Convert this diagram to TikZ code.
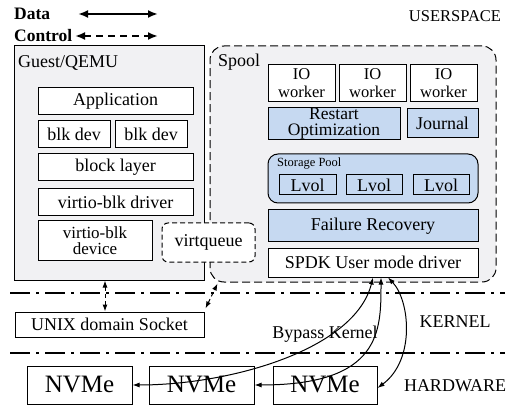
\documentclass[tikz,border=0pt]{standalone}
\usepackage{fontspec}
\setmainfont{Liberation Serif}
\usetikzlibrary{arrows.meta}
\definecolor{panelgray}{HTML}{F1F1F3}
\definecolor{layerblue}{HTML}{C6D9F1}
\tikzstyle{every node}=[inner sep=0pt, font=\rmfamily\fontsize{18}{18}\selectfont]
\tikzstyle{panel}=[draw, fill=panelgray, line width=1pt]
\tikzstyle{plainbox}=[draw, fill=white, line width=1pt]
\tikzstyle{bluebox}=[draw, fill=layerblue, line width=1pt]
\tikzstyle{dataline}=[line width=1pt, {Latex[length=7pt,width=5pt]}-{Latex[length=7pt,width=5pt]}]
\tikzstyle{ctrlline}=[dataline, dash pattern=on 4pt off 3pt]
\tikzstyle{keydata}=[line width=2pt, {Latex[length=10pt,width=8pt]}-{Latex[length=10pt,width=8pt]}]
\tikzstyle{keyctrl}=[keydata, dash pattern=on 7pt off 5pt]
\tikzstyle{layerline}=[line width=1.8pt, dash pattern=on 20pt off 6pt on 3pt off 6pt]
\tikzstyle{layertext}=[font=\rmfamily\fontsize{18}{18}\selectfont]

\begin{document}
\begin{tikzpicture}[x=1pt, y=-1pt]
\useasboundingbox (0,0) rectangle (514,406);
% Legend
    \node[anchor=west, font=\rmfamily\bfseries\fontsize{17.5}{17.5}\selectfont] (datakey) at (14,14) {Data};
    \node[anchor=west, font=\rmfamily\bfseries\fontsize{17.5}{17.5}\selectfont] (ctrlkey) at (14,36) {Control};
    \coordinate (datafrom) at (78,14);
    \coordinate (datato) at (158,14);
    \coordinate (ctrlfrom) at (75,36);
    \coordinate (ctrlto) at (158,36);
    \draw[keydata] (datafrom) -- (datato);
    \draw[keyctrl] (ctrlfrom) -- (ctrlto);
% Layers
    \draw[layerline] (10,293) -- (505,293);
    \draw[layerline] (10,353) -- (505,353);
    \node[layertext, font=\rmfamily\fontsize{16.5}{16.5}\selectfont] (userspace) at (455,16) {USERSPACE};
    \node[layertext] (kernel) at (455,322) {KERNEL};
    \node[layertext] (hardware) at (455,386) {HARDWARE};
    \node[layertext] (bypass) at (325,334) {Bypass Kernel};
% Guest side
    \node[panel, minimum width=190, minimum height=234] (guest) at (109,163) {};
    \node[anchor=base west] (guestlabel) at (18,68) {Guest/QEMU};
    \node[plainbox, minimum width=155, minimum height=27] (app) at (115.5,101.5) {Application};
    \node[plainbox, minimum width=72, minimum height=27] (blka) at (74,134.5) {blk dev};
    \node[plainbox, minimum width=72, minimum height=27] (blkb) at (151,134.5) {blk dev};
    \node[plainbox, minimum width=155, minimum height=27] (blocklayer) at (115.5,167.5) {block layer};
    \node[plainbox, minimum width=155, minimum height=27] (vdriver) at (115.5,202.5) {virtio-blk driver};
    \node[plainbox, minimum width=114, minimum height=39, align=center, font=\rmfamily\fontsize{17}{15.5}\selectfont] (vdevice) at (95,240.5) {virtio-blk\\device};
% Spool
    \node[panel, dash pattern=on 8pt off 4pt, rounded corners=14pt, minimum width=286, minimum height=236] (spool) at (353,164) {};
    \node[anchor=base west] (spoollabel) at (218,67) {Spool};
    \node[plainbox, minimum width=67, minimum height=37, align=center, font=\rmfamily\fontsize{16.5}{18}\selectfont] (worka) at (301.5,83.5) {IO\\worker};
    \node[plainbox, minimum width=67, minimum height=37, align=center, font=\rmfamily\fontsize{16.5}{18}\selectfont] (workb) at (372.5,83.5) {IO\\worker};
    \node[plainbox, minimum width=67, minimum height=37, align=center, font=\rmfamily\fontsize{16.5}{18}\selectfont] (workc) at (443.5,83.5) {IO\\worker};
    \node[bluebox, minimum width=132, minimum height=29, align=center, font=\rmfamily\fontsize{17.5}{16}\selectfont] (restart) at (334,123.5) {Restart\\Optimization};
    \node[bluebox, minimum width=71, minimum height=29] (journal) at (442.5,123.5) {Journal};
    \node[bluebox, rounded corners=10pt, minimum width=210, minimum height=49] (pool) at (373,178.5) {};
    \node[anchor=base west, font=\rmfamily\fontsize{12.5}{12.5}\selectfont] (poollabel) at (277,167) {Storage Pool};
    \node[bluebox, minimum width=57, minimum height=20] (lvola) at (307.5,185) {Lvol};
    \node[bluebox, minimum width=56, minimum height=20] (lvolb) at (374,185) {Lvol};
    \node[bluebox, minimum width=56, minimum height=20] (lvolc) at (441,185) {Lvol};
    \node[bluebox, minimum width=210, minimum height=32] (recovery) at (373,226) {Failure Recovery};
    \node[plainbox, minimum width=210, minimum height=29] (spdk) at (373,262.5) {SPDK User mode driver};
    \node[plainbox, dash pattern=on 5pt off 3pt, rounded corners=6pt, minimum width=93, minimum height=39] (vq) at (208.5,242.5) {virtqueue};
% Kernel and hardware
    \node[plainbox, minimum width=189, minimum height=25] (socket) at (109.5,324.5) {UNIX domain Socket};
    \node[plainbox, minimum width=105, minimum height=38, font=\rmfamily\fontsize{25}{25}\selectfont] (nvmea) at (79.5,385) {NVMe};
    \node[plainbox, minimum width=105, minimum height=38, font=\rmfamily\fontsize{25}{25}\selectfont] (nvmeb) at (201.5,385) {NVMe};
    \node[plainbox, minimum width=104, minimum height=38, font=\rmfamily\fontsize{25}{25}\selectfont] (nvmec) at (325,385) {NVMe};
% Control paths
    \draw[ctrlline] ([xshift=-4pt]guest.south) -- ([xshift=-4.5pt]socket.north);
    \draw[ctrlline] ([xshift=1pt,yshift=3pt]socket.north east) -- ([xshift=8pt,yshift=-1pt]spool.south west);
% Data paths
    \draw[dataline] (nvmea.east) .. controls +(98,0) and +(-18,72) .. (spdk.south);
    \draw[dataline] (nvmeb.east) .. controls +(127,0) and +(0,53) .. ([xshift=8pt]spdk.south);
    \draw[dataline] ([xshift=15pt]spdk.south) .. controls +(22,23) and +(38,-28) .. ([yshift=-3pt]nvmec.east);
\end{tikzpicture}
\end{document}
